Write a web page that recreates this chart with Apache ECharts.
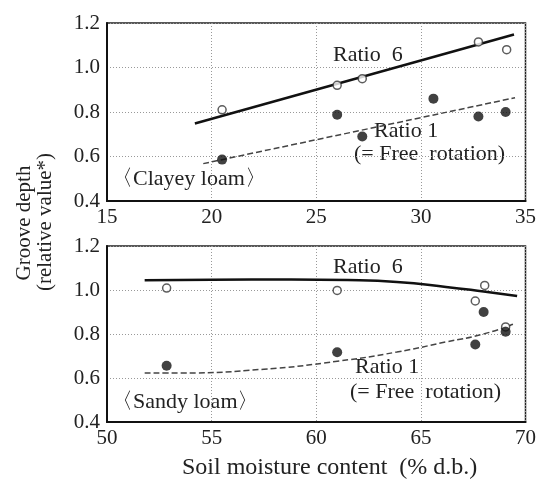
<!DOCTYPE html>
<html><head><meta charset="utf-8">
<script src="https://cdn.jsdelivr.net/npm/echarts@6/dist/echarts.min.js"></script>
<style>html,body{margin:0;padding:0;background:#fff}#c{width:539px;height:481px}</style>
</head><body><div id="c"></div>
<script>
// Top panel: Clayey loam
var clayR6 = [[20.5,0.81],[26.0,0.92],[27.2,0.95],[32.75,1.115],[34.1,1.08]];
var clayR1 = [[20.5,0.586],[26.0,0.788],[27.2,0.69],[30.6,0.86],[32.75,0.78],[34.05,0.80]];
var clayR6Line = [[19.2,0.748],[34.45,1.148]];
var clayR1Line = [[19.6,0.568],[34.5,0.864]];
// Bottom panel: Sandy loam
var sandR6 = [[52.85,1.009],[61.0,0.998],[67.6,0.95],[68.05,1.021],[69.05,0.832]];
var sandR1 = [[52.85,0.656],[61.0,0.717],[67.6,0.752],[68.0,0.90],[69.05,0.81]];
var sandR6Line = [[51.8,1.044],[55,1.047],[58.8,1.048],[61.5,1.045],[63.85,1.036],[66.2,1.014],[68,0.993],[69.6,0.973]];
var sandR1Line = [[51.8,0.623],[53.6,0.623],[57.5,0.64],[61.0,0.676],[63.85,0.718],[66.2,0.764],[68,0.80],[69.4,0.844]];
var topXTicks = {min:15, max:35, interval:5};
var botXTicks = {min:50, max:70, interval:5};
var yTicks = {min:0.4, max:1.2, interval:0.2};

var FONT = '"Liberation Serif", "DejaVu Serif", serif';
var chart = echarts.init(document.getElementById('c'), null, {renderer:'canvas'});
function xAx(idx, t){
  return {type:'value', gridIndex:idx, min:t.min, max:t.max, interval:t.interval,
    axisLine:{show:true, onZero:false, lineStyle:{color:'#111', width:2}},
    axisTick:{show:false},
    axisLabel:{color:'#222', fontFamily:FONT, fontSize:21, margin:6},
    splitLine:{show:true, lineStyle:{color:'#999', type:[1,2], width:1}}};
}
function yAx(idx){
  return {type:'value', gridIndex:idx, min:yTicks.min, max:yTicks.max, interval:yTicks.interval,
    axisLine:{show:true, onZero:false, lineStyle:{color:'#111', width:2}},
    axisTick:{show:false},
    axisLabel:{color:'#222', fontFamily:FONT, fontSize:21, margin:7, formatter:function(v){return v.toFixed(1);}},
    splitLine:{show:true, lineStyle:{color:'#999', type:[1,2], width:1}}};
}
function openS(xi, d){ return {type:'scatter', xAxisIndex:xi, yAxisIndex:xi, data:d, symbol:'circle', symbolSize:8,
  itemStyle:{color:'#fff', borderColor:'#333', borderWidth:1.5}, z:5}; }
function fillS(xi, d){ return {type:'scatter', xAxisIndex:xi, yAxisIndex:xi, data:d, symbol:'circle', symbolSize:10,
  itemStyle:{color:'#111'}, z:5}; }
function solidL(xi, d){ return {type:'line', xAxisIndex:xi, yAxisIndex:xi, data:d, smooth:true, showSymbol:false,
  lineStyle:{color:'#111', width:2.5}, z:3}; }
function dashL(xi, d){ return {type:'line', xAxisIndex:xi, yAxisIndex:xi, data:d, smooth:true, showSymbol:false,
  lineStyle:{color:'#444', width:1.5, type:[6,3]}, z:3}; }
function txt(x, y, s){ return {type:'text', left:x, top:y, style:{text:s, font:'22px '+FONT, fill:'#222'}}; }

chart.setOption({
  animation:false,
  grid:[
    {left:107, top:23, width:421, height:178, show:true, borderColor:'#222', borderWidth:1.5},
    {left:107, top:246, width:423, height:176, show:true, borderColor:'#222', borderWidth:1.5}
  ],
  xAxis:[xAx(0, topXTicks), xAx(1, botXTicks)],
  yAxis:[yAx(0), yAx(1)],
  series:[
    solidL(0, clayR6Line), dashL(0, clayR1Line), openS(0, clayR6), fillS(0, clayR1),
    solidL(1, sandR6Line), dashL(1, sandR1Line), openS(1, sandR6), fillS(1, sandR1)
  ],
  graphic:[
    txt(333, 44, 'Ratio  6'),
    txt(374, 120, 'Ratio 1'),
    txt(354, 143, '(= Free  rotation)'),
    txt(111, 168, '〈Clayey loam〉'),
    txt(333, 256, 'Ratio  6'),
    txt(355, 356, 'Ratio 1'),
    txt(350, 381, '(= Free  rotation)'),
    txt(111, 391, '〈Sandy loam〉'),
    {type:'text', left:182, top:456, style:{text:'Soil moisture content  (% d.b.)', font:'24px '+FONT, fill:'#222'}},
    {type:'text', x:24, y:223, rotation:Math.PI/2, style:{text:'Groove depth', font:'21px '+FONT, fill:'#222', align:'center', verticalAlign:'middle'}},
    {type:'text', x:45, y:222, rotation:Math.PI/2, style:{text:'(relative value*)', font:'21px '+FONT, fill:'#222', align:'center', verticalAlign:'middle'}}
  ]
});
</script></body></html>
